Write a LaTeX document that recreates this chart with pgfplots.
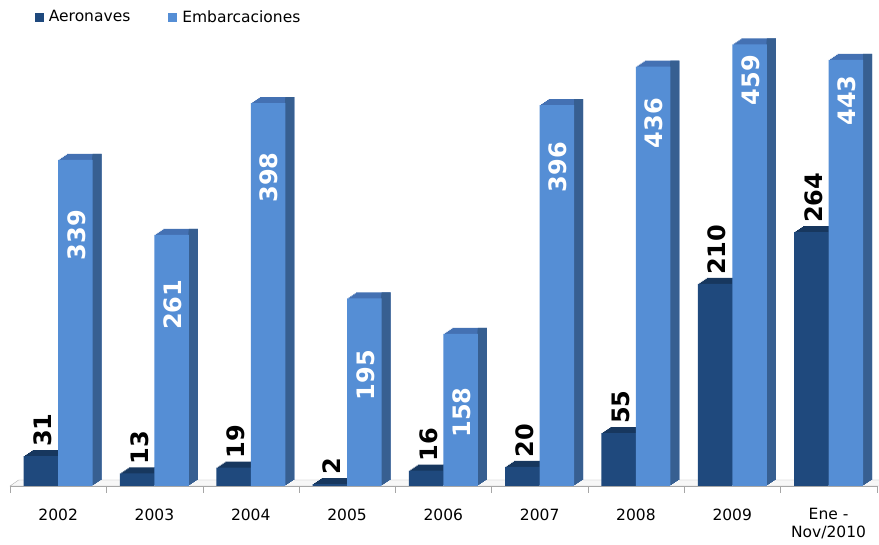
\documentclass[border=0pt]{standalone}
\usepackage{pgfplots}
\pgfplotsset{compat=1.18}
\usepackage{pgfplotstable}
\usepackage{fontspec}
\setmainfont{DejaVu Sans}
\definecolor{dfront}{HTML}{1F497D}
\definecolor{dtop}{HTML}{17375E}
\definecolor{dside}{HTML}{183A64}
\definecolor{lfront}{HTML}{558ED5}
\definecolor{ltop}{HTML}{4471B3}
\definecolor{lside}{HTML}{375F91}
% aer, emb: values; ely: centre height of the Embarcaciones label
\pgfplotstableread{
x aer emb ely
0 31 339 260.9
1 13 261 188.2
2 19 398 320.7
3 2 195 115.4
4 16 158 76.4
5 20 396 331.6
6 55 436 377.3
7 210 459 422.0
8 264 443 400.7
}\data
\begin{document}
\begin{tikzpicture}
\path[use as bounding box] (0pt,0pt) rectangle (879pt,545pt);
\begin{axis}[
  at={(10pt,59pt)}, anchor=south west,
  scale only axis, width=866.7pt, height=461.8pt,
  xmin=-0.5, xmax=8.5, ymin=0, ymax=480,
  clip=false,
  /pgf/number format/assume math mode=true,
  axis x line*=bottom, axis y line=none,
  x axis line style={draw=gray!70, -},
  xtick={0,...,8},
  xticklabels={2002,2003,2004,2005,2006,2007,2008,2009,{Ene -\\Nov/2010}},
  minor xtick={-0.5,0.5,...,8.5},
  major tick length=0pt, minor tick length=7pt, tick align=outside,
  minor tick style={draw=gray!70},
  xticklabel style={align=center, anchor=north, yshift=-19pt, font=\fontsize{15.5}{18}\selectfont},
  legend columns=2,
  legend style={draw=none, fill=none, at={(0.025,1.0155)}, anchor=west,
    font=\fontsize{15.5}{18}\selectfont,
    /tikz/every even column/.append style={column sep=36pt}},
]
% floor
\addplot[fill=gray!6, draw=gray!60, forget plot] coordinates {(-0.5,0) (8.6,0) (8.6,6.24) (-0.41,6.24)} -- cycle;
% dark series depth
\pgfplotsinvokeforeach{1,...,6}{
\addplot[ybar, bar width=34.5pt, bar shift=-17.25pt, fill=dtop, draw=none, xshift={#1*1.5pt}, yshift={#1*1pt}, forget plot] table[x=x,y=aer]{\data};
}
\pgfplotsinvokeforeach{1,...,6}{
\addplot[ybar, bar width={#1*1.5pt}, bar shift={#1*0.75pt}, fill=dside, draw=none, yshift={#1*1pt}, forget plot] table[x=x,y=aer]{\data};
}
\addplot[ybar, bar width=34.5pt, bar shift=-17.25pt, fill=dfront, draw=none,
  legend image code/.code={\fill[dfront] (0pt,-4.5pt) rectangle (9pt,4.5pt); \path (12pt,0pt);},
  nodes near coords,
  every node near coord/.append style={xshift=-15pt, rotate=90, anchor=west, inner xsep=9pt, text=black, font=\fontsize{24}{24}\selectfont\bfseries}]
  table[x=x,y=aer]{\data};
\addlegendentry{Aeronaves}
% light series depth
\pgfplotsinvokeforeach{1,...,6}{
\addplot[ybar, bar width=34.5pt, bar shift=17.25pt, fill=ltop, draw=none, xshift={#1*1.5pt}, yshift={#1*1pt}, forget plot] table[x=x,y=emb]{\data};
}
\pgfplotsinvokeforeach{1,...,6}{
\addplot[ybar, bar width={#1*1.5pt}, bar shift={34.5pt+#1*0.75pt}, fill=lside, draw=none, yshift={#1*1pt}, forget plot] table[x=x,y=emb]{\data};
}
\addplot[ybar, bar width=34.5pt, bar shift=17.25pt, fill=lfront, draw=none,
  legend image code/.code={\fill[lfront] (0pt,-4.5pt) rectangle (9pt,4.5pt); \path (12pt,0pt);}]
  table[x=x,y=emb]{\data};
\addlegendentry{Embarcaciones}
% Embarcaciones value labels
\addplot[draw=none, mark=none, forget plot, point meta=explicit,
  nodes near coords,
  every node near coord/.append style={xshift=18.25pt, rotate=90, anchor=center, text=white, font=\fontsize{24}{24}\selectfont\bfseries}]
  table[x=x,y=ely,meta=emb]{\data};
\end{axis}
\end{tikzpicture}
\end{document}
